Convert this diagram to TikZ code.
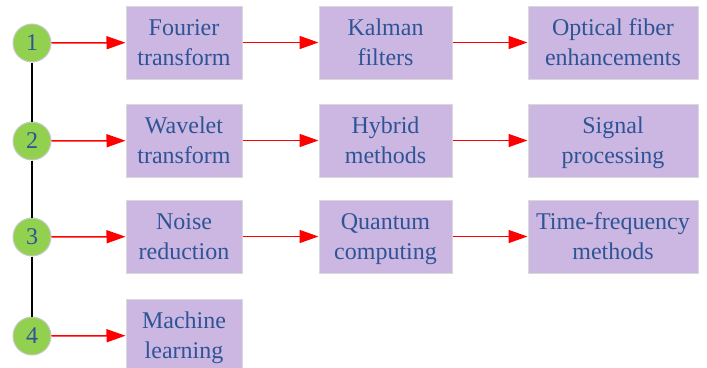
\documentclass[tikz,border=0pt]{standalone}
\usepackage{fontspec}
\setmainfont{Liberation Serif}
\usetikzlibrary{arrows.meta}
\definecolor{boxfill}{HTML}{CBB7E1}
\definecolor{boxedge}{HTML}{D9D9D9}
\definecolor{txtblue}{HTML}{2F5496}
\definecolor{dotgreen}{HTML}{92D050}
\definecolor{dotedge}{HTML}{C8C8C8}
% each label line gets the same height and depth
\newcommand\linestrut{\rule[-7.5pt]{0pt}{30pt}}
\newcommand\pair[2]{#1\linestrut\\#2\linestrut}
\tikzset{
  stepbox/.style={draw=boxedge, line width=1pt, fill=boxfill, text=txtblue,
    minimum height=73pt, align=center, inner sep=0pt,
    font=\fontsize{24pt}{30pt}\selectfont},
  dot/.style={circle, draw=dotedge, line width=1pt, fill=dotgreen, text=txtblue,
    minimum size=38pt, inner sep=0pt, font=\fontsize{24pt}{30pt}\selectfont},
  flow/.style={draw=red, line width=1.5pt, -{Triangle[length=19pt, width=13pt]}},
  spine/.style={draw=black, line width=1.5pt}
}
\begin{document}
\begin{tikzpicture}[x=1pt, y=-1pt]
\useasboundingbox (0,0) rectangle (707,367);
\clip (0,0) rectangle (707,367);
% numbered markers
\node[dot] (d1) at (32,43) {1};
\node[dot] (d2) at (32,141) {2};
\node[dot] (d3) at (32,237) {3};
\node[dot] (d4) at (32,336) {4};
\draw[spine] (d1) -- (d2);
\draw[spine] (d2) -- (d3);
\draw[spine] (d3) -- (d4);
% first column
\node[stepbox, minimum width=116pt] (a1) at (184,42.5) {\pair{Fourier}{transform}};
\node[stepbox, minimum width=116pt] (a2) at (184,140.5) {\pair{Wavelet}{transform}};
\node[stepbox, minimum width=116pt] (a3) at (184,236.5) {\pair{Noise}{reduction}};
\node[stepbox, minimum width=116pt] (a4) at (184,335.5) {\pair{Machine}{learning}};
% second column
\node[stepbox, minimum width=133pt] (b1) at (385.5,42.5) {\pair{Kalman}{filters}};
\node[stepbox, minimum width=133pt] (b2) at (385.5,140.5) {\pair{Hybrid}{methods}};
\node[stepbox, minimum width=133pt] (b3) at (385.5,236.5) {\pair{Quantum}{computing}};
% third column
\node[stepbox, minimum width=170pt] (c1) at (613,42.5) {\pair{Optical fiber}{enhancements}};
\node[stepbox, minimum width=170pt] (c2) at (613,140.5) {\pair{Signal}{processing}};
\node[stepbox, minimum width=170pt] (c3) at (613,236.5) {\pair{Time-frequency}{methods}};
% arrows
\draw[flow] (d1) -- (a1);
\draw[flow] (d2) -- (a2);
\draw[flow] (d3) -- (a3);
\draw[flow] (d4) -- (a4);
\draw[flow] (a1) -- (b1);
\draw[flow] (a2) -- (b2);
\draw[flow] (a3) -- (b3);
\draw[flow] (b1) -- (c1);
\draw[flow] (b2) -- (c2);
\draw[flow] (b3) -- (c3);
\end{tikzpicture}
\end{document}
